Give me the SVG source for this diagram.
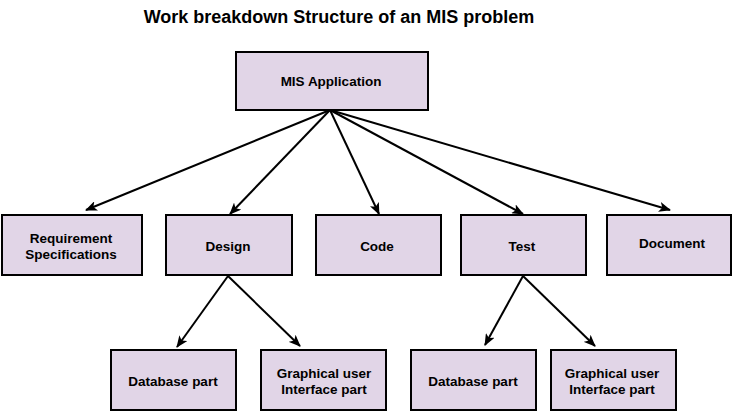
<svg xmlns="http://www.w3.org/2000/svg" width="732" height="412" viewBox="0 0 732 412">
<style>
.box{fill:#e1d5e7;stroke:#000;stroke-width:2}
.lbl{font-family:"Liberation Sans",Arial,sans-serif;font-weight:bold;font-size:13.5px;fill:#000;text-anchor:middle;dominant-baseline:central}
.title{font-family:"Liberation Sans",Arial,sans-serif;font-weight:bold;font-size:18px;fill:#000;text-anchor:middle;dominant-baseline:central}
.edge{stroke:#000;stroke-width:2;fill:none;marker-end:url(#arr)}
</style>
<defs>
<marker id="arr" viewBox="0 0 12 10" refX="11" refY="5" markerWidth="6" markerHeight="5" orient="auto" markerUnits="strokeWidth">
<path d="M0,0 L12,5 L0,10 L3,5 Z" fill="#000"/>
</marker>
</defs>
<rect width="732" height="412" fill="#fff"/>
<text class="title" x="339" y="17">Work breakdown Structure of an MIS problem</text>
<g id="connectors">
<line class="edge" x1="330" y1="110" x2="86" y2="210"/>
<line class="edge" x1="330" y1="110" x2="230" y2="214"/>
<line class="edge" x1="330" y1="110" x2="379" y2="214"/>
<line class="edge" x1="330" y1="110" x2="523" y2="214"/>
<line class="edge" x1="330" y1="110" x2="670" y2="210"/>
<line class="edge" x1="228" y1="276" x2="177" y2="347"/>
<line class="edge" x1="228" y1="276" x2="300" y2="346"/>
<line class="edge" x1="523" y1="276" x2="485" y2="345"/>
<line class="edge" x1="523" y1="276" x2="595" y2="346"/>
</g>
<g id="mis"><rect class="box" x="236" y="52" width="192" height="58"/><text class="lbl" x="331" y="81">MIS Application</text></g>
<g id="req"><rect class="box" x="2" y="215" width="140" height="60"/><text class="lbl" x="71" y="238">Requirement</text><text class="lbl" x="71" y="254">Specifications</text></g>
<g id="design"><rect class="box" x="166" y="215" width="126" height="60"/><text class="lbl" x="228" y="246">Design</text></g>
<g id="code"><rect class="box" x="316" y="215" width="125" height="60"/><text class="lbl" x="377" y="246">Code</text></g>
<g id="test"><rect class="box" x="461" y="215" width="125" height="60"/><text class="lbl" x="522" y="246">Test</text></g>
<g id="document"><rect class="box" x="607" y="215" width="124" height="60"/><text class="lbl" x="672" y="243">Document</text></g>
<g id="db1"><rect class="box" x="111" y="350" width="125" height="60"/><text class="lbl" x="173" y="381">Database part</text></g>
<g id="gui1"><rect class="box" x="261" y="350" width="125" height="60"/><text class="lbl" x="324" y="373">Graphical user</text><text class="lbl" x="324" y="389">Interface part</text></g>
<g id="db2"><rect class="box" x="411" y="350" width="125" height="60"/><text class="lbl" x="473" y="381">Database part</text></g>
<g id="gui2"><rect class="box" x="551" y="350" width="125" height="60"/><text class="lbl" x="612" y="373">Graphical user</text><text class="lbl" x="612" y="389">Interface part</text></g>
</svg>
